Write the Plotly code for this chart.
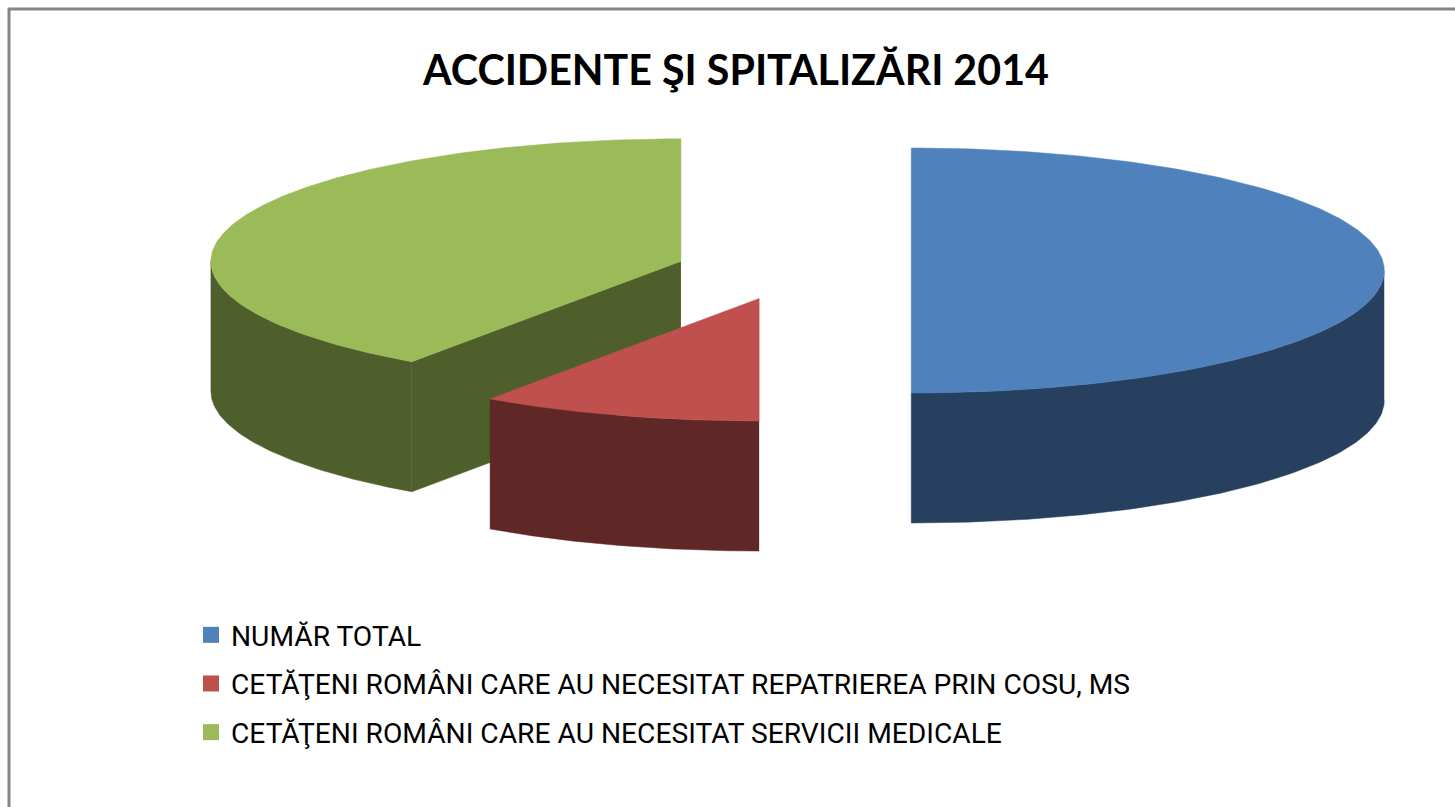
import numpy as np
import plotly.graph_objects as go

# Data (share of the pie, in percent)
categories = ["NUMĂR TOTAL",
              "CETĂŢENI ROMÂNI CARE AU NECESITAT REPATRIEREA PRIN COSU, MS",
              "CETĂŢENI ROMÂNI CARE AU NECESITAT SERVICII MEDICALE"]
values = [50.0, 9.7, 40.3]
title_text = "ACCIDENTE ŞI SPITALIZĂRI 2014"

top_colors = ["#4F81BD", "#C0504D", "#9BBB59"]
wall_colors = ["#284060", "#602727", "#4F5F2C"]
explode = [0.25, 0.24, 0.25]
radii_x = [473, 470, 470]

W, H = 1455, 807
CX, CY, RY, DEPTH = 793, 270.5, 122.5, 130


def pt(c, rx, a):
    return c[0] + rx * np.sin(a), c[1] - RY * np.cos(a)


fracs = np.array(values) / sum(values) * 2 * np.pi
ends = np.cumsum(fracs)
starts = ends - fracs

fig = go.Figure()


def poly(x, y, color, name=None):
    fig.add_trace(go.Scatter(x=list(x), y=list(y), mode="lines", fill="toself",
                             fillcolor=color, line=dict(width=0.5, color=color),
                             showlegend=False, hoverinfo="skip" if name is None else "name",
                             name=name or ""))


# back-to-front painting: green, red, blue
for i in [2, 1, 0]:
    s, e = starts[i], ends[i]
    mid = (s + e) / 2
    rx = radii_x[i]
    c = (CX + explode[i] * rx * np.sin(mid), CY - explode[i] * RY * np.cos(mid))
    # flat cut wall facing the viewer
    if i == 2:
        px, py = pt(c, rx, s)
        poly([c[0], px, px, c[0]], [c[1], py, py + DEPTH, c[1] + DEPTH], wall_colors[i])
    # outer rim: only the front half of the ellipse (90..270 deg) is visible
    rs, re = max(s, np.pi / 2), min(e, 3 * np.pi / 2)
    if re > rs:
        a = np.linspace(rs, re, 120)
        x, y = pt(c, rx, a)
        poly(np.r_[x, x[::-1]], np.r_[y, y[::-1] + DEPTH], wall_colors[i])
    # top face
    a = np.linspace(s, e, 240)
    x, y = pt(c, rx, a)
    poly(np.r_[c[0], x, c[0]], np.r_[c[1], y, c[1]], top_colors[i], categories[i])

# legend entries
for i, cat in enumerate(categories):
    fig.add_trace(go.Scatter(x=[None], y=[None], mode="markers", name=cat, legendgroup=cat,
                             marker=dict(symbol="square", size=16, color=top_colors[i])))

FRAME = "#868686"
fig.update_layout(
    width=W, height=H, margin=dict(l=0, r=0, t=0, b=0),
    paper_bgcolor="white", plot_bgcolor="white",
    xaxis=dict(range=[0, W], visible=False, fixedrange=True),
    yaxis=dict(range=[H, 0], visible=False, fixedrange=True),
    title=dict(text=f"<b>{title_text}</b>", x=736 / W, xanchor="center", y=1 - 71 / H, yanchor="middle",
               font=dict(family="Lato, Carlito, sans-serif", size=41.2, color="black")),
    legend=dict(x=202 / W, y=1 - 610 / H, xanchor="left", yanchor="top", traceorder="grouped",
                tracegroupgap=9, indentation=-11, bgcolor="rgba(0,0,0,0)", itemclick=False, itemdoubleclick=False,
                font=dict(family="Roboto, sans-serif", size=28.2, color="black")),
    shapes=[
        dict(type="line", xref="x", yref="y", x0=9, x1=9, y0=8, y1=H, line=dict(color=FRAME, width=3)),
        dict(type="line", xref="x", yref="y", x0=8, x1=W, y0=9, y1=9, line=dict(color=FRAME, width=3)),
    ],
)
fig.write_html("out.html", config=dict(displayModeBar=False),
               post_script="document.body.style.margin='0';")
